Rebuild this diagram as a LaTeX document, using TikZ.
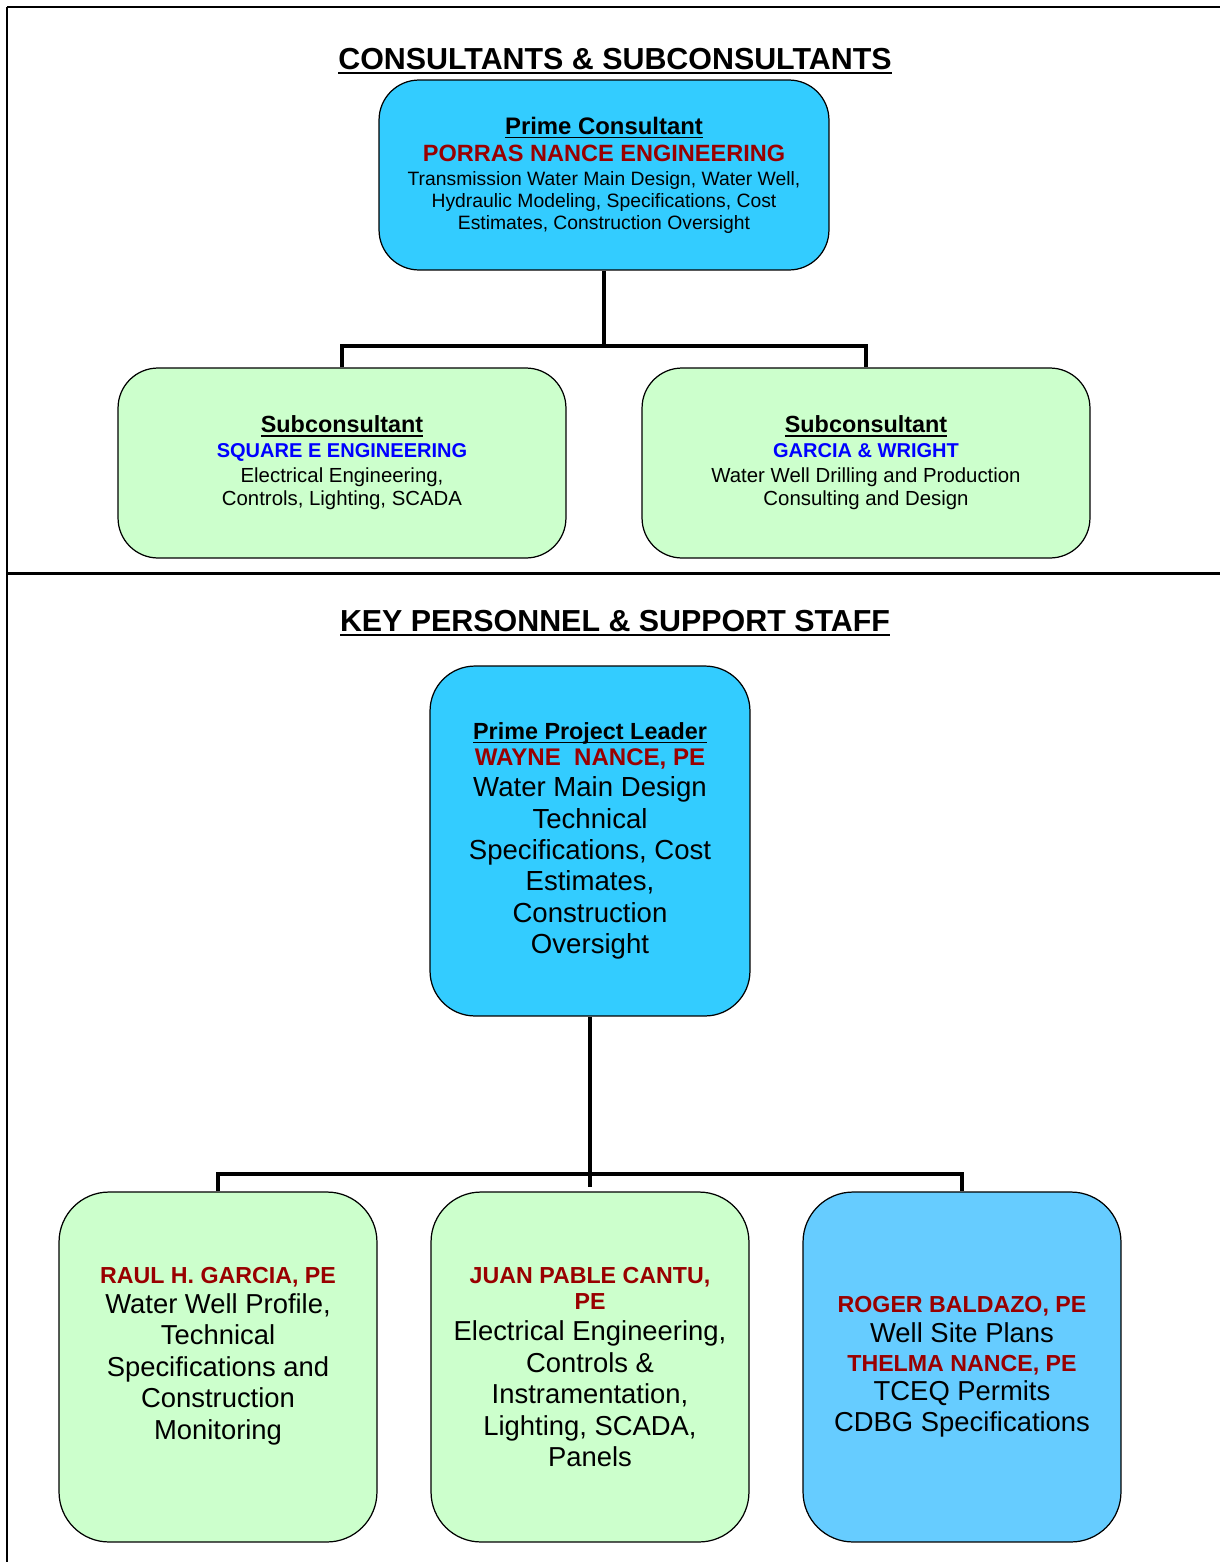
\documentclass[tikz,border=0pt]{standalone}
\usepackage{fontspec}
\setmainfont{Liberation Sans}
\definecolor{primeblue}{HTML}{33CCFF}
\definecolor{subgreen}{HTML}{CCFFCC}
\definecolor{staffblue}{HTML}{66CCFF}
\definecolor{namered}{HTML}{990000}
\definecolor{firmblue}{HTML}{0000FF}
\newcommand{\fsz}[2]{\fontsize{#1}{#2}\selectfont}
\newsavebox{\ulbox}
\newcommand{\uln}[1]{\sbox{\ulbox}{#1}\rlap{\rule[-0.17em]{\wd\ulbox}{0.07em}}\usebox{\ulbox}}

\begin{document}
\begin{tikzpicture}[x=0.02cm,y=-0.02cm,
		box/.style={draw, line width=0.7pt, align=center, inner sep=0pt},
		firmbox/.style={box, rounded corners=0.8cm, minimum width=8.96cm, minimum height=3.8cm},
		staffbox/.style={box, rounded corners=1cm, minimum width=6.36cm, minimum height=7cm, font=\fsz{15.6}{17.9}},
		link/.style={line width=2pt},
		heading/.style={anchor=base, font=\fsz{17.3}{20}\bfseries}]
	\useasboundingbox (0,0) rectangle (1220,1562);
	% frame
	\draw[line width=1.4pt] (7,7) -- (1220,7);
	\draw[line width=0.8pt] (7,7) -- (7,1562);
	\draw[line width=1.7pt] (7,573) -- (1220,573);
	
	% consultants
	\node[heading] (titleA) at (615,69) {\uln{CONSULTANTS \& SUBCONSULTANTS}};
	\node[firmbox, fill=primeblue, minimum width=9cm, font=\fsz{11}{12.5}] (prime) at (604,175) {%
		{\fsz{13.6}{15}\bfseries\uln{Prime Consultant}}\\[2.8pt]
		{\fsz{13.4}{15}\bfseries\color{namered}PORRAS NANCE ENGINEERING}\\[1.1pt]
		Transmission Water Main Design, Water Well,\\
		Hydraulic Modeling, Specifications, Cost\\
		Estimates, Construction Oversight};
	\node[firmbox, fill=subgreen, font=\fsz{11.6}{13}] (squareE) at (342,463) {%
		{\fsz{13.3}{15}\bfseries\uln{Subconsultant}}\\[1.2pt]
		{\fsz{11.4}{13}\bfseries\color{firmblue}SQUARE E ENGINEERING}\\[1.2pt]
		Electrical Engineering,\\
		Controls, Lighting, SCADA};
	\node[firmbox, fill=subgreen, font=\fsz{11.6}{13}] (garcia) at (866,463) {%
		{\fsz{13.3}{15}\bfseries\uln{Subconsultant}}\\[1.2pt]
		{\fsz{11.4}{13}\bfseries\color{firmblue}GARCIA \& WRIGHT}\\[1.2pt]
		Water Well Drilling and Production\\
		Consulting and Design};
	\coordinate (topBar) at (604,346);
	\draw[link] (prime.south) -- (topBar);
	\draw[link] (squareE.north) -- (squareE.north |- topBar) -- (garcia.north |- topBar) -- (garcia.north);
	
	% personnel
	\node[heading] (titleB) at (615,631) {\uln{KEY PERSONNEL \& SUPPORT STAFF}};
	\node[box, fill=primeblue, rounded corners=0.9cm, minimum width=6.4cm, minimum height=7cm, font=\fsz{15.7}{17.9}] (leader) at (590,841) {%
		{\fsz{13.3}{15}\bfseries\uln{Prime Project Leader}}\\[-3.2pt]
		{\fsz{13.7}{15}\bfseries\color{namered}WAYNE\ \ NANCE, PE}\\
		Water Main Design\\
		Technical\\
		Specifications, Cost\\
		Estimates,\\
		Construction\\
		Oversight};
	\node[staffbox, fill=subgreen] (raul) at (218,1367) {%
		{\fsz{13.2}{15}\bfseries\color{namered}RAUL H. GARCIA, PE}\\[-0.9pt]
		Water Well Profile,\\
		Technical\\
		Specifications and\\
		Construction\\
		Monitoring\\[-2.1pt]};
	\node[staffbox, fill=subgreen] (juan) at (590,1367) {%
		{\fsz{13.2}{15}\bfseries\color{namered}JUAN PABLE CANTU,}\\[-3.2pt]
		{\fsz{13.2}{15}\bfseries\color{namered}PE}\\
		Electrical Engineering,\\
		Controls \&\\
		Instramentation,\\
		Lighting, SCADA,\\
		Panels};
	\node[staffbox, fill=staffblue] (roger) at (962,1367) {%
		{\fsz{13.2}{15}\bfseries\color{namered}ROGER BALDAZO, PE}\\[-0.9pt]
		Well Site Plans\\[-1.5pt]
		{\fsz{13.2}{15}\bfseries\color{namered}THELMA NANCE, PE}\\[-1.5pt]
		TCEQ Permits\\
		CDBG Specifications};
	\coordinate (botBar) at (590,1174);
	\coordinate (botStub) at (590,1187);
	\draw[link, line width=2.6pt] (leader.south) -- (botStub);
	\draw[link] (raul.north) -- (raul.north |- botBar) -- (roger.north |- botBar) -- (roger.north);
\end{tikzpicture}
\end{document}
